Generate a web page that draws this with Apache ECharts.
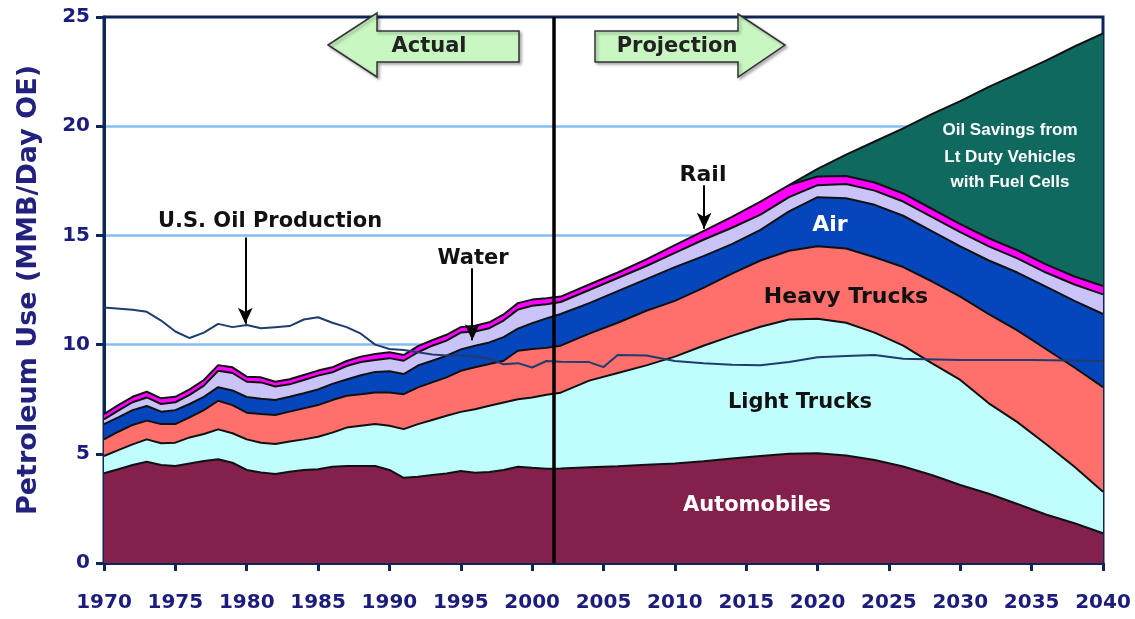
<!DOCTYPE html>
<html>
<head>
<meta charset="utf-8">
<script src="https://cdn.jsdelivr.net/npm/echarts@6/dist/echarts.min.js"></script>
<style>
html, body { margin: 0; padding: 0; background: #fff; }
#chart { width: 1135px; height: 619px; }
</style>
</head>
<body>
<div id="chart"></div>
<script>
// years of the stacked layers (annual history, two-yearly projection)
const years = [
  1970, 1971, 1972, 1973, 1974, 1975, 1976, 1977, 1978, 1979,
  1980, 1981, 1982, 1983, 1984, 1985, 1986, 1987, 1988, 1989,
  1990, 1991, 1992, 1993, 1994, 1995, 1996, 1997, 1998, 1999,
  2000, 2001,
  2002, 2004, 2006, 2008, 2010, 2012, 2014, 2016, 2018, 2020,
  2022, 2024, 2026, 2028, 2030, 2032, 2034, 2036, 2038, 2040
];

// top edge of each layer (MMB/day)
const autoTop = [
  4.11, 4.29, 4.49, 4.64, 4.49, 4.44, 4.56, 4.67, 4.75, 4.59,
  4.26, 4.14, 4.08, 4.18, 4.26, 4.29, 4.41, 4.44, 4.44, 4.44,
  4.26, 3.9, 3.95, 4.03, 4.1, 4.21, 4.13, 4.17, 4.26, 4.41,
  4.36, 4.32,
  4.33, 4.38, 4.43, 4.5, 4.56, 4.66, 4.78, 4.9, 5.0, 5.03,
  4.92, 4.72, 4.42, 4.03, 3.57, 3.17, 2.7, 2.22, 1.82, 1.36
];
const lightTruckTop = [
  4.9, 5.17, 5.43, 5.66, 5.48, 5.51, 5.75, 5.91, 6.12, 5.94,
  5.66, 5.51, 5.45, 5.56, 5.66, 5.78, 5.97, 6.2, 6.28, 6.36,
  6.28, 6.13, 6.36, 6.55, 6.74, 6.92, 7.04, 7.2, 7.35, 7.5,
  7.58, 7.7,
  7.8, 8.35, 8.7, 9.05, 9.45, 9.95, 10.4, 10.82, 11.15, 11.18,
  11.0, 10.55, 9.95, 9.15, 8.38, 7.31, 6.45, 5.45, 4.41, 3.26
];
const heavyTruckTop = [
  5.66, 6.01, 6.32, 6.52, 6.36, 6.36, 6.67, 7.0, 7.43, 7.23,
  6.88, 6.82, 6.78, 6.93, 7.08, 7.23, 7.46, 7.66, 7.73, 7.81,
  7.81, 7.73, 8.04, 8.27, 8.5, 8.8, 8.96, 9.11, 9.26, 9.72,
  9.8, 9.85,
  9.95, 10.5, 11.0, 11.55, 12.0, 12.6, 13.25, 13.85, 14.3, 14.5,
  14.4, 14.0, 13.55, 12.9, 12.2, 11.4, 10.65, 9.8, 8.95, 8.05
];
const airTop = [
  6.36, 6.67, 7.0, 7.19, 6.93, 7.0, 7.28, 7.61, 8.05, 7.9,
  7.6, 7.52, 7.46, 7.61, 7.77, 7.95, 8.2, 8.4, 8.6, 8.75,
  8.78, 8.65, 9.04, 9.26, 9.49, 9.78, 9.95, 10.1, 10.34, 10.73,
  10.98, 11.2,
  11.4, 11.9, 12.45, 13.0, 13.55, 14.05, 14.6, 15.25, 16.1, 16.75,
  16.7, 16.4, 15.9, 15.2, 14.5, 13.85, 13.3, 12.65, 12.0, 11.4
];
const waterTop = [
  6.58, 6.98, 7.36, 7.58, 7.28, 7.36, 7.7, 8.12, 8.8, 8.7,
  8.3, 8.27, 8.08, 8.18, 8.38, 8.58, 8.73, 9.02, 9.2, 9.3,
  9.38, 9.26, 9.65, 9.95, 10.18, 10.55, 10.6, 10.75, 11.1, 11.6,
  11.78, 11.85,
  11.95, 12.5, 13.05, 13.6, 14.2, 14.8, 15.35, 15.95, 16.75, 17.3,
  17.35, 17.05, 16.55, 15.85, 15.15, 14.5, 13.95, 13.3, 12.75, 12.3
];
const railTop = [
  6.82, 7.23, 7.61, 7.84, 7.54, 7.61, 7.95, 8.38, 9.06, 8.96,
  8.53, 8.5, 8.3, 8.41, 8.61, 8.81, 8.96, 9.25, 9.45, 9.57,
  9.65, 9.52, 9.93, 10.2, 10.45, 10.8, 10.86, 11.02, 11.38, 11.9,
  12.06, 12.12,
  12.2, 12.75, 13.3, 13.9, 14.55, 15.2, 15.85, 16.55, 17.3, 17.7,
  17.72, 17.42, 16.92, 16.22, 15.52, 14.87, 14.32, 13.67, 13.12, 12.68
];

// fuel-cell savings wedge (top edge)
const savingsYears = [2018, 2020, 2022, 2024, 2026, 2028, 2030, 2032, 2034, 2036, 2038, 2040];
const savingsTop = [17.3, 18.05, 18.7, 19.3, 19.9, 20.55, 21.15, 21.8, 22.4, 23.0, 23.65, 24.25];

// U.S. oil production line
const oilYears = [
  1970, 1972, 1973, 1974, 1975, 1976, 1977, 1978, 1979, 1980,
  1981, 1982, 1983, 1984, 1985, 1986, 1987, 1988, 1989, 1990,
  1991, 1992, 1993, 1994, 1995, 1996, 1997, 1998, 1999, 2000,
  2001, 2002, 2004, 2005, 2006, 2008, 2010, 2012, 2014, 2016,
  2018, 2020, 2022, 2024, 2026, 2030, 2035, 2040
];
const oilProduction = [
  11.7, 11.6, 11.5, 11.1, 10.6, 10.3, 10.55, 10.95, 10.8, 10.9,
  10.75, 10.8, 10.85, 11.15, 11.25, 11.0, 10.8, 10.5, 10.0, 9.8,
  9.75, 9.65, 9.55, 9.5, 9.5, 9.45, 9.35, 9.1, 9.15, 8.95,
  9.25, 9.22, 9.2, 8.97, 9.52, 9.5, 9.25, 9.15, 9.08, 9.05,
  9.2, 9.42, 9.48, 9.52, 9.35, 9.3, 9.3, 9.25
];

const xTicks = { min: 1970, max: 2040, step: 5 };
const yTicks = { min: 0, max: 25, step: 5 };

const NAVY = '#0d2557';
const LABEL = '#1c1c7c';
const BOLD = 'DejaVu Sans';

function pairs(xs, ys) {
  return xs.map((x, i) => [x, ys[i]]);
}

function layer(name, xs, ys, fill) {
  return {
    name: name,
    type: 'line',
    data: pairs(xs, ys),
    symbol: 'none',
    lineStyle: { color: '#111', width: 2 },
    areaStyle: { color: fill, opacity: 1, origin: 'start' },
    silent: true
  };
}

function label(text, x, y, color, size, font) {
  return {
    type: 'text',
    x: x, y: y, z: 100,
    style: {
      text: text,
      fill: color || '#111',
      font: 'bold ' + (size || 21) + 'px "' + (font || BOLD) + '"',
      align: 'center',
      verticalAlign: 'middle'
    }
  };
}

const option = {
  animation: false,
  grid: {
    left: 104, right: 32, top: 17, bottom: 56,
    show: true, borderColor: NAVY, borderWidth: 3
  },
  xAxis: {
    type: 'value',
    min: xTicks.min, max: xTicks.max, interval: xTicks.step,
    axisLine: { show: true, lineStyle: { color: NAVY, width: 3 } },
    axisTick: { show: true, length: 8, lineStyle: { color: NAVY, width: 3 } },
    axisLabel: {
      color: LABEL, fontFamily: BOLD, fontWeight: 'bold', fontSize: 20, margin: 30,
      formatter: v => String(v)
    },
    splitLine: { show: false }
  },
  yAxis: {
    type: 'value',
    min: yTicks.min, max: yTicks.max, interval: yTicks.step,
    name: 'Petroleum Use (MMB/Day OE)',
    nameLocation: 'middle',
    nameGap: 62,
    nameTextStyle: { color: '#22227e', fontFamily: BOLD, fontWeight: 'bold', fontSize: 27 },
    axisLine: { show: true, lineStyle: { color: NAVY, width: 3 } },
    axisTick: { show: true, length: 8, lineStyle: { color: NAVY, width: 3 } },
    axisLabel: { color: LABEL, fontFamily: BOLD, fontWeight: 'bold', fontSize: 20, margin: 14 },
    splitLine: { show: true, showMaxLine: false, lineStyle: { color: '#86bcef', width: 2.5 } }
  },
  series: [
    layer('Oil Savings from Lt Duty Vehicles with Fuel Cells', savingsYears, savingsTop, '#10695f'),
    layer('Rail', years, railTop, '#ff00ff'),
    layer('Water', years, waterTop, '#c9c3f7'),
    layer('Air', years, airTop, '#0646bd'),
    layer('Heavy Trucks', years, heavyTruckTop, '#ff6f6c'),
    layer('Light Trucks', years, lightTruckTop, '#c0fdfd'),
    layer('Automobiles', years, autoTop, '#84204c'),
    {
      name: 'U.S. Oil Production',
      type: 'line',
      data: pairs(oilYears, oilProduction),
      symbol: 'none',
      lineStyle: { color: '#1f3c6e', width: 2 },
      silent: true,
      markLine: {
        silent: true,
        symbol: ['none', 'none'],
        label: { show: false },
        lineStyle: { color: '#000', width: 2, type: 'solid' },
        data: [
          [{ xAxis: 2001.5, yAxis: 0, lineStyle: { width: 3.5 } }, { xAxis: 2001.5, yAxis: 25 }],
          [{ coord: [1979.9, 14.9] }, { coord: [1979.9, 10.95], symbol: 'arrow', symbolSize: [11, 16] }],
          [{ coord: [1995.8, 13.5] }, { coord: [1995.8, 10.2], symbol: 'arrow', symbolSize: [11, 16] }],
          [{ coord: [2012.05, 17.3] }, { coord: [2012.05, 15.3], symbol: 'arrow', symbolSize: [11, 16] }]
        ]
      }
    }
  ],
  graphic: [
    {
      type: 'polygon', z: 90,
      shape: { points: [[328, 45], [377, 13], [377, 31], [519, 31], [519, 62], [377, 62], [377, 77]] },
      style: { fill: '#c8f7c2', stroke: '#333', lineWidth: 1.5, shadowColor: 'rgba(0,0,0,0.3)', shadowBlur: 3, shadowOffsetX: 2, shadowOffsetY: 2 }
    },
    {
      type: 'polygon', z: 90,
      shape: { points: [[595, 31], [738, 31], [738, 14], [785, 45], [738, 77], [738, 62], [595, 62]] },
      style: { fill: '#c8f7c2', stroke: '#333', lineWidth: 1.5, shadowColor: 'rgba(0,0,0,0.3)', shadowBlur: 3, shadowOffsetX: 2, shadowOffsetY: 2 }
    },
    label('Actual', 429, 47, '#222', 21),
    label('Projection', 677, 47, '#222', 21),
    label('U.S. Oil Production', 270, 222, '#111', 21),
    label('Water', 473, 259, '#111', 21),
    label('Rail', 703, 175, '#111', 22),
    label('Air', 830, 225, '#fff', 22),
    label('Heavy Trucks', 846, 297, '#111', 22),
    label('Light Trucks', 800, 403, '#111', 21),
    label('Automobiles', 757, 506, '#fff', 21),
    label('Oil Savings from', 1010, 130, '#fff', 17, 'Liberation Sans'),
    label('Lt Duty Vehicles', 1010, 157, '#fff', 17, 'Liberation Sans'),
    label('with Fuel Cells', 1010, 182, '#fff', 17, 'Liberation Sans')
  ]
};

const chart = echarts.init(document.getElementById('chart'));
chart.setOption(option);
</script>
</body>
</html>
